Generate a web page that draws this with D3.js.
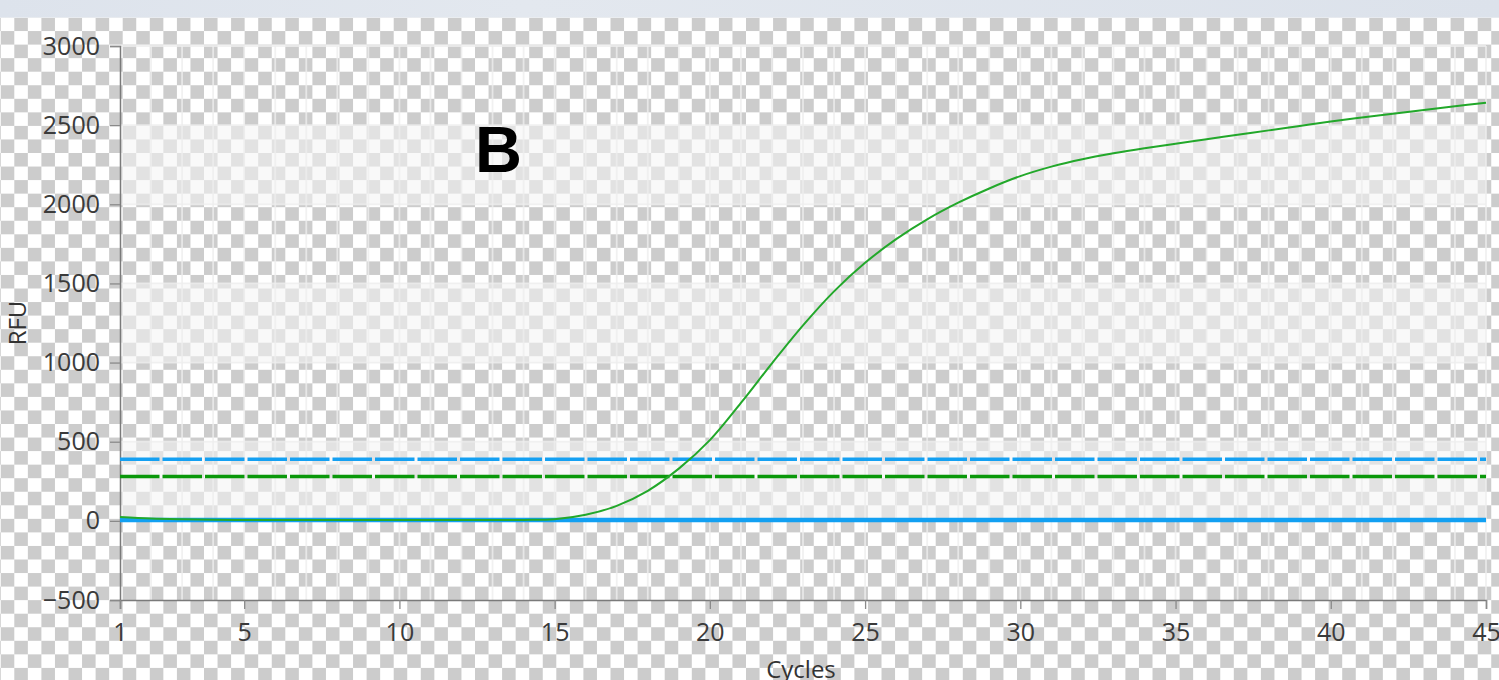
<!DOCTYPE html>
<html>

<head>
    <meta charset="utf-8">
    <title>RFU amplification</title>
    <style>
    body {
        margin: 0;
        background: #fff;
        overflow: hidden;
    }
    #chart text {
        font-family: "Open Sans", "Noto Sans", sans-serif;
    }
    </style>
</head>

<body>
    <div id="chart"></div>
</body>
<script src="https://d3js.org/d3.v7.min.js"></script>
<script>
    // cycle numbers (x) and the green amplification curve (RFU)
    const cycles = [1, 2, 3, 4, 5, 6, 7, 8, 9, 10, 11, 12, 13, 14, 15, 16, 17, 18, 19, 20,
        21, 22, 23, 24, 25, 26, 27, 28, 29, 30, 31, 32, 33, 34, 35, 36, 37, 38, 39, 40,
        41, 42, 43, 44, 45]
    const rfu = [25, 15, 10, 7, 5, 5, 5, 5, 5, 5, 5, 5, 5, 6, 10, 38, 95, 190, 330, 510,
        745, 995, 1235, 1450, 1630, 1780, 1905, 2010, 2100, 2178, 2238, 2285, 2322, 2354, 2383,
        2411, 2439, 2467, 2495, 2523, 2548, 2572, 2596, 2619, 2642]

    // horizontal reference lines
    const baseline = 5
    const blueThreshold = 390
    const greenThreshold = 280

    // axis ticks
    const xTicks = [1, 5, 10, 15, 20, 25, 30, 35, 40, 45]
    const yTicks = [-500, 0, 500, 1000, 1500, 2000, 2500, 3000]
    const bands = [[2000, 2500], [1000, 1500], [0, 500]]

    const W = 1499, H = 680
    const margin = {top: 46, right: 13, bottom: 80, left: 120}

    const svg = d3.select("#chart")
      .append("svg")
        .attr("width", W)
        .attr("height", H)

    // transparency checkerboard behind everything
    const cell = 13.55
    const pat = svg.append("defs").append("pattern")
        .attr("id", "checker")
        .attr("patternUnits", "userSpaceOnUse")
        .attr("x", 0.75).attr("y", 17.5)
        .attr("width", cell * 2).attr("height", cell * 2)
    pat.append("rect").attr("width", cell * 2).attr("height", cell * 2).attr("fill", "#ffffff")
    pat.append("rect").attr("x", cell).attr("width", cell).attr("height", cell).attr("fill", "#cccccc")
    pat.append("rect").attr("y", cell).attr("width", cell).attr("height", cell).attr("fill", "#cccccc")

    svg.append("rect")
        .attr("y", 17.5).attr("width", W).attr("height", H - 17.5)
        .attr("fill", "url(#checker)")

    // window strip at the top
    const grad = svg.select("defs").append("linearGradient").attr("id", "strip")
    grad.append("stop").attr("offset", "0%").attr("stop-color", "#dde3ec")
    grad.append("stop").attr("offset", "35%").attr("stop-color", "#e3e8ef")
    grad.append("stop").attr("offset", "100%").attr("stop-color", "#dce2eb")
    svg.append("rect").attr("width", W).attr("height", 17.5).attr("fill", "url(#strip)")

    const x = d3.scaleLinear()
        .domain([1, 45])
        .range([margin.left, W - margin.right])

    const y = d3.scaleLinear()
        .domain([-500, 3000])
        .range([H - margin.bottom, margin.top])

    // alternating bands
    svg.append("g")
      .selectAll("rect")
      .data(bands)
      .join("rect")
        .attr("x", x(1))
        .attr("y", d => y(d[1]))
        .attr("width", x(45) - x(1))
        .attr("height", d => y(d[0]) - y(d[1]))
        .attr("fill", "#f4f4f4")
        .attr("fill-opacity", 0.55)

    // grid
    const grid = svg.append("g")
        .attr("stroke", "#eeeeee")
        .attr("stroke-opacity", 0.8)
        .attr("stroke-width", 1.8)
    grid.selectAll(".vg")
      .data(cycles.slice(1))
      .join("line")
        .attr("x1", d => x(d)).attr("x2", d => x(d))
        .attr("y1", y(3000)).attr("y2", y(-500))
    grid.selectAll(".hg")
      .data(yTicks.slice(1))
      .join("line")
        .attr("x1", x(1)).attr("x2", x(45))
        .attr("y1", d => y(d)).attr("y2", d => y(d))

    // axes
    const yAxis = svg.append("g")
        .attr("transform", `translate(${x(1)},0)`)
        .call(d3.axisLeft(y).tickValues(yTicks).tickSize(10).tickPadding(10).tickFormat(d3.format("d")))
    const xAxis = svg.append("g")
        .attr("transform", `translate(0,${y(-500)})`)
        .call(d3.axisBottom(x).tickValues(xTicks).tickSize(9).tickPadding(14).tickFormat(d3.format("d")))

    for (const ax of [yAxis, xAxis]) {
        ax.select(".domain").attr("stroke", "#7a7a7a").attr("stroke-width", 1.5)
        ax.selectAll(".tick line").attr("stroke", "#8a8a8a").attr("stroke-width", 1.3)
        ax.selectAll(".tick text")
            .attr("fill", "#3a3a3a")
            .style("font-size", "25px")
    }

    // reference lines
    const refs = [
        {v: baseline, color: "#12a0f2", width: 4.5, dash: null},
        {v: blueThreshold, color: "#14a0f2", width: 3.5, dash: "39.5 3"},
        {v: greenThreshold, color: "#0a980a", width: 3.5, dash: "39.5 3"}
    ]
    svg.append("g")
      .selectAll("line")
      .data(refs)
      .join("line")
        .attr("x1", x(1)).attr("x2", x(45))
        .attr("y1", d => y(d.v)).attr("y2", d => y(d.v))
        .attr("stroke", d => d.color)
        .attr("stroke-width", d => d.width)
        .attr("stroke-dasharray", d => d.dash)

    // amplification curve
    const line = d3.line()
        .x((d, i) => x(cycles[i]))
        .y(d => y(d))
        .curve(d3.curveCatmullRom.alpha(0.5))
    svg.append("path")
        .datum(rfu)
        .attr("d", line)
        .attr("fill", "none")
        .attr("stroke", "#22a82a")
        .attr("stroke-width", 2)

    // labels
    svg.append("text")
        .attr("transform", `translate(26,${y(1250)}) rotate(-90)`)
        .attr("text-anchor", "middle")
        .attr("fill", "#333")
        .style("font-size", "24px")
        .text("RFU")
    svg.append("text")
        .attr("x", 801).attr("y", 678)
        .attr("text-anchor", "middle")
        .attr("fill", "#333")
        .style("font-size", "24px")
        .text("Cycles")
    svg.append("text")
        .attr("x", 475).attr("y", 172)
        .attr("fill", "#000")
        .style("font-family", "'Liberation Sans', Arial, sans-serif")
        .style("font-weight", "bold")
        .style("font-size", "65px")
        .text("B")

</script>

</html>
